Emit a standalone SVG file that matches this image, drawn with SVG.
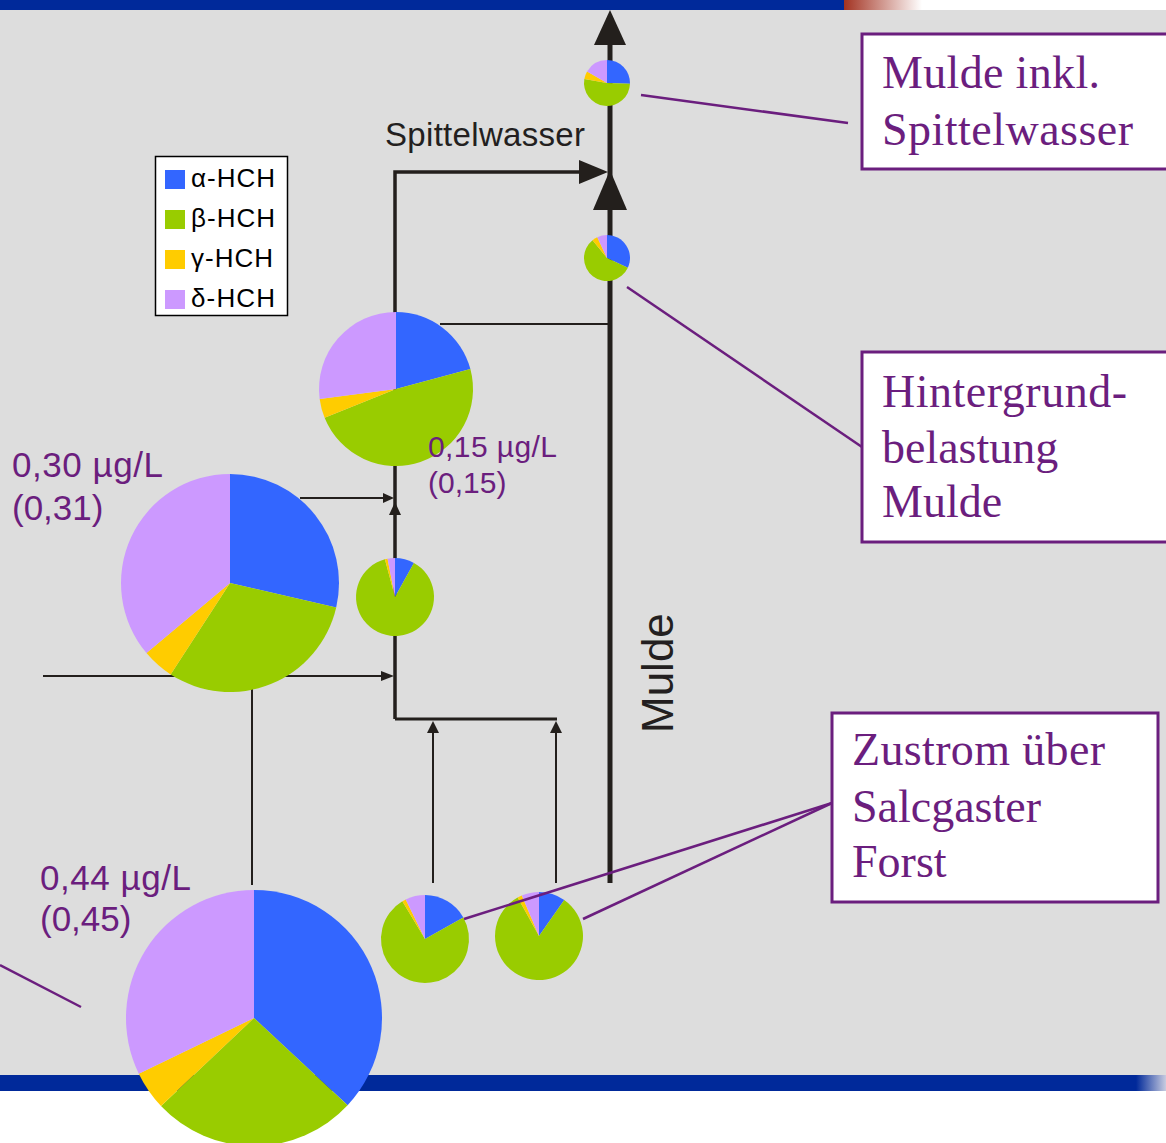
<svg xmlns="http://www.w3.org/2000/svg" width="1166" height="1143" viewBox="0 0 1166 1143">
<defs>
<linearGradient id="gTop" x1="0" y1="0" x2="1" y2="0"><stop offset="0" stop-color="#A33322"/><stop offset="1" stop-color="#FFFFFF"/></linearGradient>
<linearGradient id="gBot" x1="0" y1="0" x2="1" y2="0"><stop offset="0" stop-color="#00299A"/><stop offset="1" stop-color="#C8CCE0"/></linearGradient>
<style>
.a{fill:#3366FF}.b{fill:#99CC00}.g{fill:#FFCC00}.d{fill:#CC99FF}
.ln{stroke:#231F1C;fill:none;stroke-width:2}
.ah{fill:#231F1C}
.cl{stroke:#6B1E7E;stroke-width:2.5;fill:none}
.box{fill:#FFFFFF;stroke:#6B1E7E;stroke-width:3}
.bt{font-family:"Liberation Serif",serif;font-size:46px;fill:#6B1E7E}
.pt{font-family:"Liberation Sans",Arial,sans-serif;fill:#6B1E7E}
.lt{font-family:"Liberation Sans",Arial,sans-serif;font-size:26px;fill:#000}
</style>
</defs>
<rect x="0" y="0" width="1166" height="1143" fill="#DDDDDD"/>
<rect x="0" y="0" width="844" height="10" fill="#00299A"/>
<rect x="844" y="0" width="78" height="10" fill="url(#gTop)"/>
<rect x="922" y="0" width="244" height="10" fill="#FFFFFF"/>
<rect x="0" y="1091" width="1166" height="52" fill="#FFFFFF"/>
<rect x="0" y="1075" width="1136" height="16" fill="#00299A"/>
<rect x="1136" y="1075" width="30" height="16" fill="url(#gBot)"/>

<g id="connectors">
<line class="ln" x1="610" y1="883" x2="610" y2="40" style="stroke-width:5"/>
<polygon class="ah" points="610,10 626,45 594,45"/>
<polygon class="ah" points="610,170 627,210 593,210"/>
<polyline class="ln" points="395,719 395,172 585,172" style="stroke-width:3.5"/>
<polygon class="ah" points="608,172 579,160 579,184"/>
<line class="ln" x1="440" y1="324" x2="610" y2="324"/>
<line class="ln" x1="300" y1="498" x2="388" y2="498"/>
<polygon class="ah" points="394,498 383,493 383,503"/>
<polygon class="ah" points="395,502 401,515 389,515"/>
<line class="ln" x1="43" y1="676" x2="388" y2="676"/>
<polygon class="ah" points="394,676 381,671 381,681"/>
<polyline class="ln" points="395,719 557,719" style="stroke-width:3"/>
<line class="ln" x1="433" y1="883" x2="433" y2="730"/>
<polygon class="ah" points="433,721 439,733 427,733"/>
<line class="ln" x1="556" y1="883" x2="556" y2="730"/>
<polygon class="ah" points="556,721 562,733 550,733"/>
<line class="ln" x1="252" y1="885" x2="252" y2="680"/>
</g>

<g id="pie-mulde-inkl">
<path class="a" d="M607,83 L607,60 A23,23 0 0 1 629.99,83.8 Z"/>
<path class="b" d="M607,83 L629.99,83.8 A23,23 0 1 1 584.35,79.01 Z"/>
<path class="g" d="M607,83 L584.35,79.01 A23,23 0 0 1 587.08,71.5 Z"/>
<path class="d" d="M607,83 L587.08,71.5 A23,23 0 0 1 607,60 Z"/>
</g>
<g id="pie-hintergrund">
<path class="a" d="M607,258 L607,235 A23,23 0 0 1 627.84,267.72 Z"/>
<path class="b" d="M607,258 L627.84,267.72 A23,23 0 1 1 592.53,240.13 Z"/>
<path class="g" d="M607,258 L592.53,240.13 A23,23 0 0 1 597.28,237.16 Z"/>
<path class="d" d="M607,258 L597.28,237.16 A23,23 0 0 1 607,235 Z"/>
</g>
<g id="pie-015">
<path class="a" d="M396,389 L396,312 A77,77 0 0 1 470.38,369.07 Z"/>
<path class="b" d="M396,389 L470.38,369.07 A77,77 0 0 1 324.61,417.84 Z"/>
<path class="g" d="M396,389 L324.61,417.84 A77,77 0 0 1 319.66,399.05 Z"/>
<path class="d" d="M396,389 L319.66,399.05 A77,77 0 0 1 396,312 Z"/>
</g>
<g id="pie-030">
<path class="a" d="M230,583 L230,474 A109,109 0 0 1 336.21,607.53 Z"/>
<path class="b" d="M230,583 L336.21,607.53 A109,109 0 0 1 170.64,674.42 Z"/>
<path class="g" d="M230,583 L170.64,674.42 A109,109 0 0 1 146.5,653.06 Z"/>
<path class="d" d="M230,583 L146.5,653.06 A109,109 0 0 1 230,474 Z"/>
</g>
<g id="pie-small-mid">
<path class="a" d="M395,597 L395,558 A39,39 0 0 1 413.91,562.89 Z"/>
<path class="b" d="M395,597 L413.91,562.89 A39,39 0 1 1 384.91,559.33 Z"/>
<path class="g" d="M395,597 L384.91,559.33 A39,39 0 0 1 387.56,558.72 Z"/>
<path class="d" d="M395,597 L387.56,558.72 A39,39 0 0 1 395,558 Z"/>
</g>
<g id="pie-044">
<path class="a" d="M254,1018 L254,890 A128,128 0 0 1 347.62,1105.3 Z"/>
<path class="b" d="M254,1018 L347.62,1105.3 A128,128 0 0 1 161,1105.95 Z"/>
<path class="g" d="M254,1018 L161,1105.95 A128,128 0 0 1 138.76,1073.71 Z"/>
<path class="d" d="M254,1018 L138.76,1073.71 A128,128 0 0 1 254,890 Z"/>
</g>
<g id="pie-zustrom-1">
<path class="a" d="M425,939 L425,895 A44,44 0 0 1 463.33,917.4 Z"/>
<path class="b" d="M425,939 L463.33,917.4 A44,44 0 1 1 402.34,901.28 Z"/>
<path class="g" d="M425,939 L402.34,901.28 A44,44 0 0 1 405.71,899.45 Z"/>
<path class="d" d="M425,939 L405.71,899.45 A44,44 0 0 1 425,895 Z"/>
</g>
<g id="pie-zustrom-2">
<path class="a" d="M539,936 L539,892 A44,44 0 0 1 564.24,899.96 Z"/>
<path class="b" d="M539,936 L564.24,899.96 A44,44 0 1 1 517.67,897.52 Z"/>
<path class="g" d="M539,936 L517.67,897.52 A44,44 0 0 1 521.81,895.5 Z"/>
<path class="d" d="M539,936 L521.81,895.5 A44,44 0 0 1 539,892 Z"/>
</g>

<g id="callout-lines">
<line class="cl" x1="641" y1="95" x2="848" y2="123"/>
<line class="cl" x1="627" y1="287" x2="862" y2="447"/>
<line class="cl" x1="464" y1="919" x2="832" y2="803"/>
<line class="cl" x1="583" y1="919" x2="832" y2="803"/>
<line class="cl" x1="0" y1="965" x2="81" y2="1007"/>
</g>

<g id="legend">
<rect x="155.5" y="156.5" width="132" height="159" fill="#FFFFFF" stroke="#000" stroke-width="1.5"/>
<rect class="a" x="165" y="170" width="20" height="19"/>
<rect class="b" x="165" y="210" width="20" height="19"/>
<rect class="g" x="165" y="250" width="20" height="19"/>
<rect class="d" x="165" y="290" width="20" height="19"/>
<text class="lt" x="191" y="187" textLength="84">α-HCH</text>
<text class="lt" x="191" y="227" textLength="84">β-HCH</text>
<text class="lt" x="191" y="267" textLength="82">γ-HCH</text>
<text class="lt" x="191" y="307" textLength="84">δ-HCH</text>
</g>

<g id="labels">
<text x="385" y="146" font-family="Liberation Sans, Arial, sans-serif" font-size="33" fill="#231F20" textLength="200">Spittelwasser</text>
<text transform="translate(673,733) rotate(-90)" font-family="Liberation Sans, Arial, sans-serif" font-size="44" fill="#231F20">Mulde</text>
<text class="pt" x="428" y="457" font-size="30" textLength="129">0,15 µg/L</text>
<text class="pt" x="428" y="493" font-size="30">(0,15)</text>
<text class="pt" x="12" y="477" font-size="35" textLength="151">0,30 µg/L</text>
<text class="pt" x="12" y="520" font-size="35">(0,31)</text>
<text class="pt" x="40" y="890" font-size="35" textLength="151">0,44 µg/L</text>
<text class="pt" x="40" y="931" font-size="35">(0,45)</text>
</g>

<g id="box-mulde-inkl">
<rect class="box" x="862" y="34" width="320" height="135"/>
<text class="bt" x="882" y="88" textLength="218">Mulde inkl.</text>
<text class="bt" x="882" y="145" textLength="251">Spittelwasser</text>
</g>
<g id="box-hintergrund">
<rect class="box" x="862" y="352" width="320" height="190"/>
<text class="bt" x="882" y="407" textLength="245">Hintergrund-</text>
<text class="bt" x="882" y="463">belastung</text>
<text class="bt" x="882" y="517">Mulde</text>
</g>
<g id="box-zustrom">
<rect class="box" x="832" y="713" width="326" height="189"/>
<text class="bt" x="852" y="765" textLength="253">Zustrom über</text>
<text class="bt" x="852" y="822">Salcgaster</text>
<text class="bt" x="852" y="877">Forst</text>
</g>
</svg>
